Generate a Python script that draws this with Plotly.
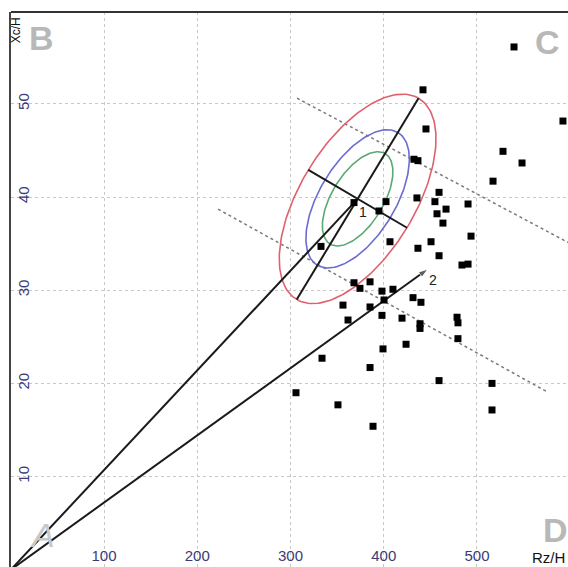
import numpy as np
import plotly.graph_objects as go

# ---- data ----
pts_x = [539.7, 592.2, 442.1, 445.3, 432.4, 436.7, 527.9, 548.3, 517.2, 459.3,
         435.6, 402.4, 368.1, 454.9, 490.4, 466.8, 394.9, 457.1, 463.5, 493.6,
         406.7, 450.7, 332.7, 436.7, 459.3, 490.4, 483.9, 368.1, 385.3, 374.5,
         398.1, 409.9, 356.3, 385.3, 400.3, 431.4, 439.9, 361.7, 398.1, 419.6,
         438.9, 438.9, 478.6, 479.6, 479.6, 333.8, 399.2, 423.9, 385.3, 459.3,
         516.1, 305.9, 350.9, 516.1, 388.5]
pts_y = [56.1, 48.15, 51.5, 47.3, 44.05, 43.9, 44.9, 43.65, 41.7, 40.5,
         39.9, 39.5, 39.4, 39.5, 39.25, 38.7, 38.5, 38.2, 37.2, 35.8,
         35.2, 35.2, 34.7, 34.5, 33.7, 32.8, 32.7, 30.8, 30.9, 30.2,
         29.9, 30.1, 28.4, 28.2, 28.95, 29.2, 28.7, 26.8, 27.3, 27.0,
         26.4, 25.9, 27.1, 26.5, 24.8, 22.7, 23.7, 24.2, 21.7, 20.3,
         20.0, 19.0, 17.7, 17.15, 15.4]

ellipse_center = [372.0, 39.8]
major_end = [437.3, 50.6]
minor_end = [424.9, 36.7]
ellipse_scales = [1.0, 0.66, 0.45]
ellipse_colors = ["#e0606e", "#6b6bd2", "#5aa872"]

vector1_end = [372.0, 39.8]      # origin -> point 1
vector2_end = [447.4, 32.27]     # origin -> point 2 (arrow)

upper_dotted_x = [307.0, 600.0]
upper_dotted_y = [50.6, 35.0]
lower_dotted_x = [222.3, 575.1]
lower_dotted_y = [38.7, 19.1]

x_ticks = [100, 200, 300, 400, 500]
y_ticks = [10, 20, 30, 40, 50]

# ---- figure ----
fig = go.Figure()

# dotted boundary lines
for xs, ys in [(upper_dotted_x, upper_dotted_y), (lower_dotted_x, lower_dotted_y)]:
    fig.add_trace(go.Scatter(x=xs, y=ys, mode="lines",
                             line=dict(color="#7a7a7a", width=1.5, dash="dot"),
                             hoverinfo="skip", showlegend=False))

# ellipses
c = np.array(ellipse_center)
a = np.array(major_end) - c
b = np.array(minor_end) - c
t = np.linspace(0, 2 * np.pi, 200)
for s, col in zip(ellipse_scales, ellipse_colors):
    ex = c[0] + s * (a[0] * np.cos(t) + b[0] * np.sin(t))
    ey = c[1] + s * (a[1] * np.cos(t) + b[1] * np.sin(t))
    fig.add_trace(go.Scatter(x=ex, y=ey, mode="lines",
                             line=dict(color=col, width=1.6),
                             hoverinfo="skip", showlegend=False))

# ellipse axes
fig.add_trace(go.Scatter(x=[c[0] - a[0], c[0] + a[0]], y=[c[1] - a[1], c[1] + a[1]],
                         mode="lines", line=dict(color="#1a1a1a", width=2),
                         hoverinfo="skip", showlegend=False))
fig.add_trace(go.Scatter(x=[c[0] - b[0], c[0] + b[0]], y=[c[1] - b[1], c[1] + b[1]],
                         mode="lines", line=dict(color="#1a1a1a", width=2),
                         hoverinfo="skip", showlegend=False))

# vectors from origin
fig.add_trace(go.Scatter(x=[0, vector1_end[0]], y=[0, vector1_end[1]],
                         mode="lines", line=dict(color="#1a1a1a", width=2),
                         hoverinfo="skip", showlegend=False))
fig.add_trace(go.Scatter(x=[0, vector2_end[0]], y=[0, vector2_end[1]],
                         mode="lines+markers", line=dict(color="#1a1a1a", width=2),
                         marker=dict(symbol=["circle", "arrow"], size=[0, 10],
                                     angleref="previous", color="#1a1a1a"),
                         hoverinfo="skip", showlegend=False))

# data points
fig.add_trace(go.Scatter(x=pts_x, y=pts_y, mode="markers", cliponaxis=False,
                         marker=dict(symbol="square", size=7, color="black"),
                         showlegend=False))

# point labels
fig.add_annotation(x=vector1_end[0] + 6, y=vector1_end[1] - 1.4, text="1", showarrow=False,
                   font=dict(size=14, color="#222", family="Liberation Sans"))
fig.add_annotation(x=vector2_end[0] + 5.5, y=vector2_end[1] - 1.2, text="2", showarrow=False,
                   font=dict(size=14, color="#222", family="Liberation Sans"))

# corner letters
letter_font = dict(size=34, color="#b8b8b8", family="Liberation Sans")
corner = dict(xref="paper", yref="paper", showarrow=False, xanchor="center", yanchor="middle")
fig.add_annotation(x=0.054, y=0.953, text="<b>B</b>", font=letter_font, **corner)
fig.add_annotation(x=0.964, y=0.946, text="<b>C</b>", font=letter_font, **corner)
fig.add_annotation(x=0.056, y=0.058, text="<i>A</i>",
                   font=dict(size=34, color="#c8c8c8", family="Liberation Sans"), **corner)
fig.add_annotation(x=0.977, y=0.066, text="<b>D</b>", font=letter_font, **corner)

# axis titles
fig.add_annotation(x=0.008, y=0.968, text="Xc/H", textangle=-90,
                   font=dict(size=12, color="#111", family="Liberation Sans"), **corner)
fig.add_annotation(xref="paper", yref="paper", x=0.998, y=0.018, text="Rz/H",
                   xanchor="right", yanchor="middle", showarrow=False,
                   font=dict(size=15, color="#111", family="Liberation Sans"))

# top border
fig.add_shape(type="line", xref="paper", yref="paper", x0=0, x1=1, y0=1, y1=1,
              line=dict(color="#333", width=2))

tick_font = dict(size=15, color="#3a3a78", family="Liberation Sans")
fig.update_xaxes(range=[0.27, 597.6], tickvals=x_ticks, ticks="",
                 ticklabelposition="inside", showgrid=True, gridcolor="#c8c8c8",
                 griddash="dot", gridwidth=1, zeroline=False, showline=False,
                 tickfont=tick_font)
fig.update_yaxes(range=[0.30, 59.85], tickvals=y_ticks, ticks="",
                 ticklabelposition="inside", tickangle=-90, showgrid=True,
                 gridcolor="#c8c8c8", griddash="dot", gridwidth=1, zeroline=False,
                 showline=True, linecolor="#444", linewidth=2,
                 tickfont=tick_font)

fig.update_layout(width=568, height=567,
                  margin=dict(l=11, r=0, t=12, b=0),
                  plot_bgcolor="white", paper_bgcolor="white")

fig.write_html("out.html", config={"displayModeBar": False},
               post_script="document.body.style.margin='0';document.body.style.overflow='hidden';")
